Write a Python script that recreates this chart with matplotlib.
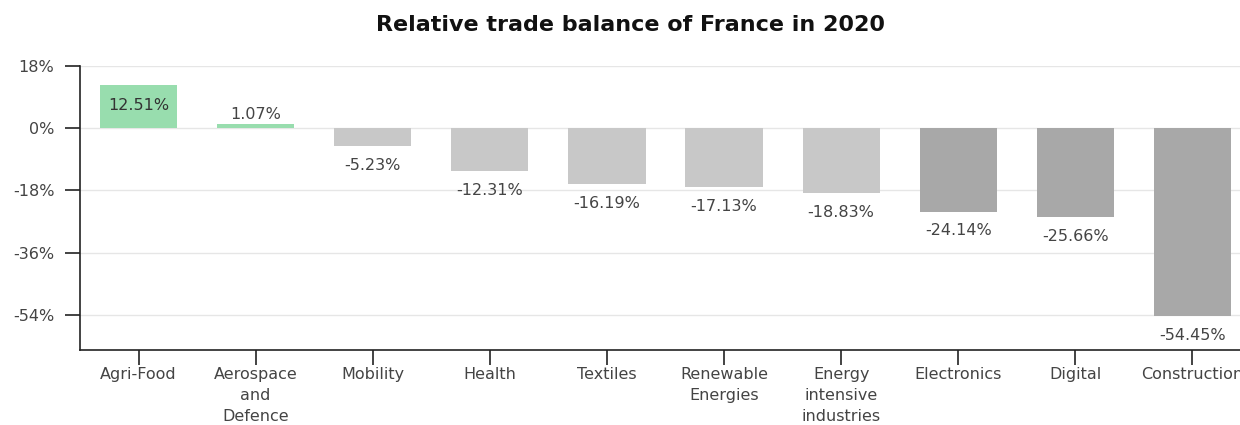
import matplotlib.pyplot as plt
import numpy as np

# Relative trade balance per sector (in %)
sectors = ['Agri-Food', 'Aerospace\nand\nDefence', 'Mobility', 'Health', 'Textiles',
           'Renewable\nEnergies', 'Energy\nintensive\nindustries', 'Electronics',
           'Digital', 'Construction']
balance = [12.51, 1.07, -5.23, -12.31, -16.19, -17.13, -18.83, -24.14, -25.66, -54.45]
yticks = [18, 0, -18, -36, -54]

green = '#98ddae'
light_grey = '#c8c8c8'
dark_grey = '#a8a8a8'
colors = []
for v in balance:
    if v > 0:
        colors.append(green)
    elif v > -20:
        colors.append(light_grey)
    else:
        colors.append(dark_grey)

fs = 11.5

fig = plt.figure(figsize=(12.4, 4.25), dpi=100)
ax = fig.add_axes([80 / 1240, 1 - 350 / 425, 1171 / 1240, (350 - 66) / 425])

x = np.arange(len(sectors))
ax.bar(x, balance, width=0.66, color=colors, zorder=2)

for xi, v in zip(x, balance):
    txt = f'{v:.2f}%'
    if v > 5:
        # label sits inside the bar
        ax.annotate(txt, (xi, v), xytext=(0, -9.5), textcoords='offset points',
                    ha='center', va='top', fontsize=fs, color='#333333')
    elif v > 0:
        ax.annotate(txt, (xi, v), xytext=(0, 2), textcoords='offset points',
                    ha='center', va='bottom', fontsize=fs, color='#444444')
    else:
        ax.annotate(txt, (xi, v), xytext=(0, -8.5), textcoords='offset points',
                    ha='center', va='top', fontsize=fs, color='#444444')

ax.set_xlim(-0.5, len(sectors) - 0.5)
ax.set_ylim(-64.2, 18)
ax.set_yticks(yticks)
ax.set_yticklabels([f'{t}%' for t in yticks])
ax.set_xticks(x)
ax.set_xticklabels(sectors, linespacing=1.5)
ax.tick_params(axis='both', labelsize=fs, labelcolor='#444444', length=10.5, width=1.2,
               color='#222222')
ax.tick_params(axis='x', pad=2)
ax.tick_params(axis='y', pad=8)
ax.grid(axis='y', color='#e6e6e6', linewidth=1, zorder=0)
ax.set_axisbelow(True)
for side in ['top', 'right']:
    ax.spines[side].set_visible(False)
for side in ['left', 'bottom']:
    ax.spines[side].set_color('#222222')
    ax.spines[side].set_linewidth(1.2)

fig.text(631 / 1240, 1 - 25 / 425, 'Relative trade balance of France in 2020',
         ha='center', va='center', fontsize=16, fontweight='bold', color='#111111')

fig.savefig('out.png', dpi=100)
